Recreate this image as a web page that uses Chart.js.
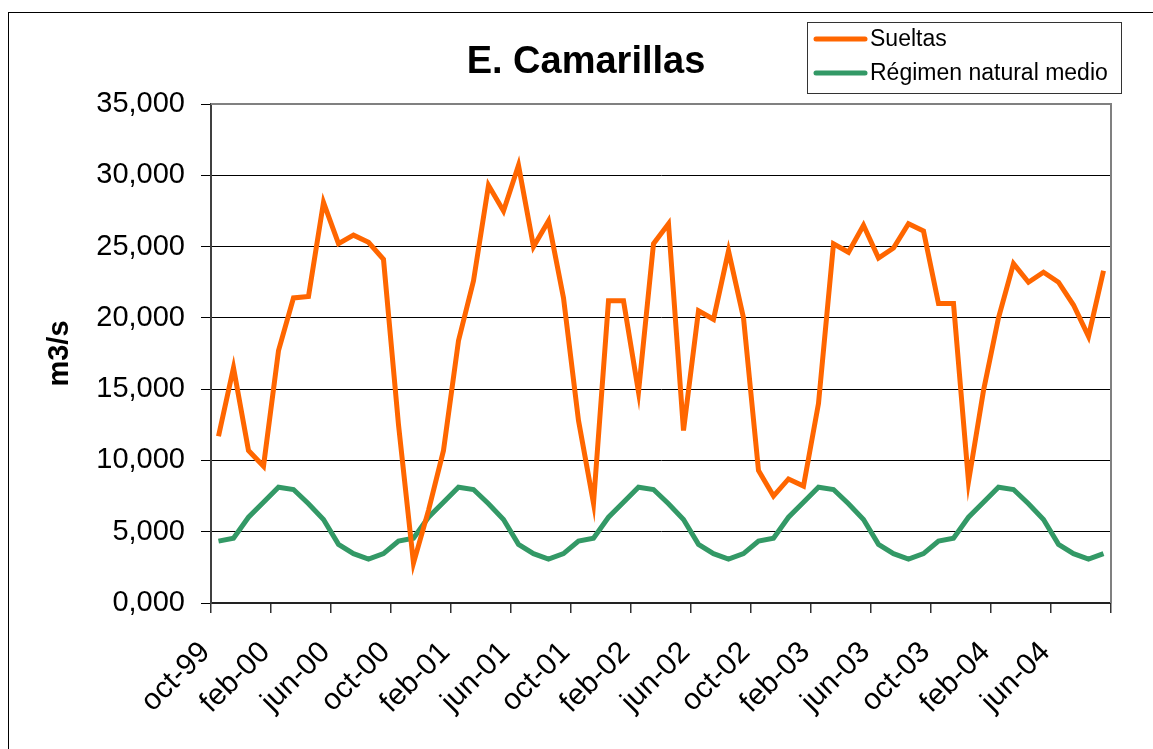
<!DOCTYPE html>
<html>
<head>
<meta charset="utf-8">
<script src="https://cdn.jsdelivr.net/npm/chart.js@4.4.1/dist/chart.umd.min.js"></script>
<style>
  html, body { margin: 0; padding: 0; background: #fff; }
  #wrap { width: 1153px; height: 749px; }
</style>
</head>
<body>
<div id="wrap"><canvas id="chart" width="1153" height="749"></canvas></div>
<script>
const months = [
    'oct-99', 'nov-99', 'dic-99', 'ene-00', 'feb-00', 'mar-00', 'abr-00', 'may-00', 'jun-00', 'jul-00', 'ago-00', 'sep-00',
    'oct-00', 'nov-00', 'dic-00', 'ene-01', 'feb-01', 'mar-01', 'abr-01', 'may-01', 'jun-01', 'jul-01', 'ago-01', 'sep-01',
    'oct-01', 'nov-01', 'dic-01', 'ene-02', 'feb-02', 'mar-02', 'abr-02', 'may-02', 'jun-02', 'jul-02', 'ago-02', 'sep-02',
    'oct-02', 'nov-02', 'dic-02', 'ene-03', 'feb-03', 'mar-03', 'abr-03', 'may-03', 'jun-03', 'jul-03', 'ago-03', 'sep-03',
    'oct-03', 'nov-03', 'dic-03', 'ene-04', 'feb-04', 'mar-04', 'abr-04', 'may-04', 'jun-04', 'jul-04', 'ago-04', 'sep-04'
];

const sueltas = [
    11700, 16500, 10700, 9600, 17700, 21400, 21500, 28100, 25200, 25800, 25300, 24100,
    12500, 2800, 6500, 10700, 18400, 22600, 29300, 27500, 30700, 25000, 26800, 21400,
    12800, 7000, 21200, 21200, 14800, 25200, 26600, 12100, 20500, 19900, 24700, 20000,
    9300, 7500, 8700, 8200, 14000, 25200, 24600, 26500, 24200, 24900, 26600, 26100,
    21000, 21000, 8500, 14900, 20000, 23800, 22500, 23200, 22500, 20900, 18700, 23300
];

const regimenNatural = [
    4340, 4550, 6020, 7070, 8120, 7960, 6960, 5860, 4110, 3460, 3080, 3460,
    4340, 4550, 6020, 7070, 8120, 7960, 6960, 5860, 4110, 3460, 3080, 3460,
    4340, 4550, 6020, 7070, 8120, 7960, 6960, 5860, 4110, 3460, 3080, 3460,
    4340, 4550, 6020, 7070, 8120, 7960, 6960, 5860, 4110, 3460, 3080, 3460,
    4340, 4550, 6020, 7070, 8120, 7960, 6960, 5860, 4110, 3460, 3080, 3460
];

const yTickLabels = ['0,000', '5,000', '10,000', '15,000', '20,000', '25,000', '30,000', '35,000'];
const chartTitle = 'E. Camarillas';
const yAxisTitle = 'm3/s';

const FONT = '"Liberation Sans", Arial, sans-serif';

// title, legend box, outer frame and the grey top/right plot border
const decor = {
    id: 'decor',
    beforeDatasetsDraw(chart) {
        const { ctx, chartArea: a } = chart;
        ctx.save();
        ctx.strokeStyle = '#808080';
        ctx.lineWidth = 2;
        ctx.beginPath();
        ctx.moveTo(a.left, a.top);
        ctx.lineTo(a.right, a.top);
        ctx.lineTo(a.right, a.bottom);
        ctx.stroke();
        ctx.restore();
    },
    afterDraw(chart) {
        const ctx = chart.ctx;
        ctx.save();
        // outer frame
        ctx.strokeStyle = '#000';
        ctx.lineWidth = 1;
        ctx.strokeRect(8.5, 12.5, 1200, 800);

        // title
        ctx.fillStyle = '#000';
        ctx.font = 'bold 38px ' + FONT;
        ctx.textAlign = 'center';
        ctx.textBaseline = 'alphabetic';
        ctx.fillText(chartTitle, 586, 73);

        // legend
        ctx.fillStyle = '#fff';
        ctx.fillRect(807, 22, 314, 71);
        ctx.strokeStyle = '#333';
        ctx.lineWidth = 1;
        ctx.strokeRect(807.5, 22.5, 314, 71);
        ctx.font = '23px ' + FONT;
        ctx.textAlign = 'left';
        ctx.textBaseline = 'middle';
        const rows = [39, 73];
        chart.data.datasets.forEach((ds, i) => {
            ctx.strokeStyle = ds.borderColor;
            ctx.lineWidth = 5;
            ctx.lineCap = 'round';
            ctx.beginPath();
            ctx.moveTo(816, rows[i]);
            ctx.lineTo(865, rows[i]);
            ctx.stroke();
            ctx.fillStyle = '#000';
            ctx.fillText(ds.label, 870, rows[i] + 1);
        });
        ctx.restore();
    }
};

const ctx = document.getElementById('chart').getContext('2d');
const chart = new Chart(ctx, {
    type: 'line',
    data: {
        labels: months,
        datasets: [{
            label: 'Sueltas',
            data: sueltas,
            borderColor: '#FF6600',
            backgroundColor: '#FF6600',
            borderWidth: 5,
            pointRadius: 0,
            tension: 0
        }, {
            label: 'Régimen natural medio',
            data: regimenNatural,
            borderColor: '#339966',
            backgroundColor: '#339966',
            borderWidth: 5,
            pointRadius: 0,
            tension: 0
        }]
    },
    options: {
        responsive: false,
        animation: false,
        devicePixelRatio: 1,
        layout: { padding: { top: 104, right: 42, left: 0, bottom: 0 } },
        plugins: {
            legend: { display: false },
            title: { display: false },
            tooltip: { enabled: false }
        },
        scales: {
            x: {
                offset: true,
                afterFit: s => { s.height = 146; },
                grid: {
                    offset: true,
                    drawOnChartArea: false,
                    drawTicks: true,
                    tickLength: 10,
                    lineWidth: 1.5,
                    color: c => (c.tick === undefined || c.index % 4 === 0) ? '#000' : 'rgba(0,0,0,0)',
                    tickColor: c => (c.tick === undefined || c.index % 4 === 0) ? '#333' : 'rgba(0,0,0,0)'
                },
                border: { display: true, color: '#222', width: 2 },
                ticks: {
                    autoSkip: false,
                    maxRotation: 45,
                    minRotation: 45,
                    padding: 22,
                    labelOffset: -13,
                    color: '#000',
                    font: { family: FONT, size: 30 },
                    callback: function (val, index) {
                        return index % 4 === 0 ? this.getLabelForValue(val) : '';
                    }
                }
            },
            y: {
                min: 0,
                max: 35000,
                afterFit: s => { s.width = 211; },
                grid: {
                    color: c => (c.tick && c.tick.value === 35000) ? 'rgba(0,0,0,0)' : '#000',
                    tickColor: '#000',
                    lineWidth: 1,
                    tickLength: 10
                },
                border: { display: true, color: '#404040', width: 2 },
                ticks: {
                    stepSize: 5000,
                    padding: 16,
                    color: '#000',
                    font: { family: FONT, size: 29 },
                    callback: v => yTickLabels[Math.round(v / 5000)]
                },
                title: {
                    display: true,
                    text: yAxisTitle,
                    color: '#000',
                    font: { family: FONT, size: 29, weight: 'bold' },
                    padding: { top: 43, bottom: 0 }
                }
            }
        }
    },
    plugins: [decor]
});
</script>
</body>
</html>
